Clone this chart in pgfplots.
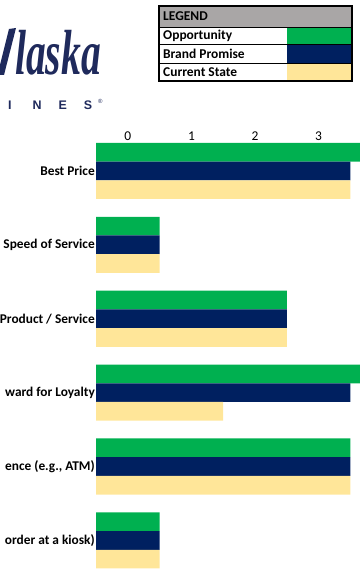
\documentclass[border=0pt]{standalone}
\usepackage{fontspec}
\setmainfont{Carlito}
\newfontfamily\logofont{Liberation Serif}
\newfontfamily\logosans{Liberation Sans}
\usepackage{pgfplots}
\pgfplotsset{compat=1.18}
\definecolor{oppgreen}{HTML}{00B050}
\definecolor{brandnavy}{HTML}{002060}
\definecolor{curyellow}{HTML}{FFE699}
\definecolor{leggray}{HTML}{A9A6A6}
\definecolor{logonavy}{HTML}{1F2A5C}
\begin{document}
\begin{tikzpicture}
\path[use as bounding box] (0,0) rectangle (360bp,570bp);
\clip (0,0) rectangle (360bp,570bp);
\begin{axis}[
  at={(96bp,0bp)}, anchor=south west,
  scale only axis, width=264bp, height=427.6bp,
  xbar, bar width=18.7bp,
  xmin=0, xmax=4.15, ymin=-0.4, ymax=5.386,
  axis line style={draw=none},
  major tick length=0pt,
  xtick={0.5,1.5,2.5,3.5}, xticklabels={0,1,2,3},
  xticklabel pos=top,
  ytick={0,1,2,3,4,5},
  yticklabels={{order at a kiosk)},{ence (e.g., ATM)},{ward for Loyalty},{Product / Service},{Speed of Service},{Best Price}},
  yticklabel style={font=\bfseries\fontsize{13.4}{16}\selectfont, inner sep=1bp},
  xticklabel style={font=\fontsize{13.5}{16}\selectfont, inner sep=2bp},
  /pgf/number format/assume math mode=true,
  clip=true,
]
\addplot[fill=oppgreen, draw=none, bar shift=18.7bp] coordinates {(5,5) (1,4) (3,3) (5,2) (4,1) (1,0)};
\addplot[fill=brandnavy, draw=none, bar shift=0bp] coordinates {(4,5) (1,4) (3,3) (4,2) (4,1) (1,0)};
\addplot[fill=curyellow, draw=none, bar shift=-18.7bp] coordinates {(4,5) (1,4) (3,3) (2,2) (4,1) (1,0)};
\end{axis}
% logo
\fill[logonavy] (9bp,541bp) -- (16bp,542bp) -- (4bp,495bp) -- (0bp,495bp) -- (0bp,505bp) -- cycle;
\node[anchor=base east, text=logonavy, inner sep=0pt, xscale=0.62, font=\logofont\bfseries\itshape\fontsize{64}{70}\selectfont] at (101bp,495bp) {laska};
\node[anchor=base west, text=logonavy, inner sep=0pt, font=\logosans\bfseries\fontsize{12.5}{14}\selectfont] at (8bp,460.7bp) {I\hspace{21bp}N\hspace{17bp}E\hspace{17bp}S};
\node[anchor=base west, text=logonavy, inner sep=0pt, font=\logosans\fontsize{6}{7}\selectfont] at (98bp,466bp) {®};
% legend table
\fill[leggray] (159bp,542.7bp) rectangle (352bp,564bp);
\fill[oppgreen] (287bp,525bp) rectangle (352bp,542.7bp);
\fill[brandnavy] (287bp,506.7bp) rectangle (352bp,525bp);
\fill[curyellow] (287bp,489bp) rectangle (352bp,506.7bp);
\draw[line width=1bp] (159bp,542.7bp) -- (352bp,542.7bp);
\draw[line width=1bp] (159bp,525bp) -- (352bp,525bp);
\draw[line width=1bp] (159bp,506.7bp) -- (352bp,506.7bp);
\draw[line width=2bp] (159bp,489bp) rectangle (352bp,564bp);
\node[anchor=west, inner sep=0pt, font=\bfseries\fontsize{13.5}{15}\selectfont] at (163bp,553.4bp) {LEGEND};
\node[anchor=west, inner sep=0pt, font=\bfseries\fontsize{13.5}{15}\selectfont] at (163bp,533.9bp) {Opportunity};
\node[anchor=west, inner sep=0pt, font=\bfseries\fontsize{13.5}{15}\selectfont] at (163bp,515.9bp) {Brand Promise};
\node[anchor=west, inner sep=0pt, font=\bfseries\fontsize{13.5}{15}\selectfont] at (163bp,497.9bp) {Current State};
\end{tikzpicture}
\end{document}
